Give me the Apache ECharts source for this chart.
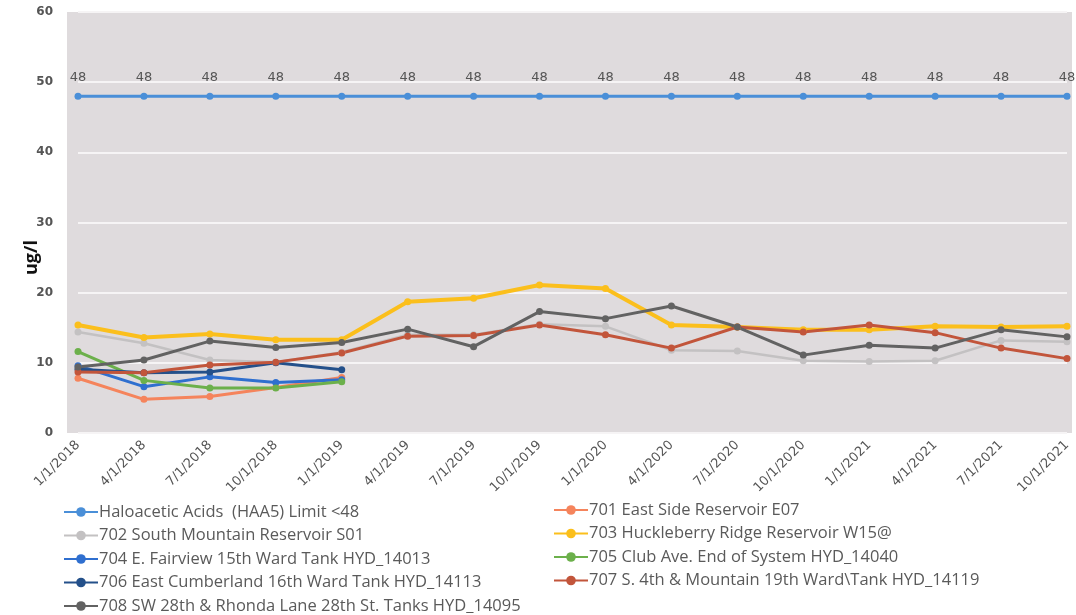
<!DOCTYPE html>
<html>
<head>
<meta charset="utf-8">
<script src="https://cdn.jsdelivr.net/npm/echarts@6/dist/echarts.min.js"></script>
<style>
  html, body { margin: 0; padding: 0; background: #fff; }
  #chart { width: 1076px; height: 615px; }
</style>
</head>
<body>
<div id="chart"></div>
<script>
const dates = ["1/1/2018", "4/1/2018", "7/1/2018", "10/1/2018", "1/1/2019", "4/1/2019", "7/1/2019", "10/1/2019",
  "1/1/2020", "4/1/2020", "7/1/2020", "10/1/2020", "1/1/2021", "4/1/2021", "7/1/2021", "10/1/2021"]

const haa5Limit = [48, 48, 48, 48, 48, 48, 48, 48, 48, 48, 48, 48, 48, 48, 48, 48]
const eastSide701 = [7.8, 4.8, 5.2, 6.5, 7.9, null, null, null, null, null, null, null, null, null, null, null]
const southMountain702 = [14.4, 12.8, 10.4, 10.1, 11.5, 14.0, 14.0, 15.5, 15.2, 11.8, 11.7, 10.3, 10.2, 10.3, 13.2, 13.0]
const huckleberry703 = [15.4, 13.6, 14.1, 13.3, 13.3, 18.7, 19.2, 21.1, 20.6, 15.4, 15.1, 14.7, 14.7, 15.2, 15.1, 15.2]
const fairview704 = [9.6, 6.6, 8.0, 7.2, 7.6, null, null, null, null, null, null, null, null, null, null, null]
const clubAve705 = [11.6, 7.5, 6.4, 6.4, 7.3, null, null, null, null, null, null, null, null, null, null, null]
const cumberland706 = [9.1, 8.6, 8.7, 10.0, 9.0, null, null, null, null, null, null, null, null, null, null, null]
const fourthMountain707 = [8.7, 8.6, 9.7, 10.1, 11.4, 13.8, 13.9, 15.4, 14.0, 12.1, 15.1, 14.4, 15.4, 14.3, 12.1, 10.6]
const rhonda708 = [9.4, 10.4, 13.1, 12.2, 12.9, 14.8, 12.3, 17.3, 16.3, 18.1, 15.1, 11.1, 12.5, 12.1, 14.7, 13.7]

const yTicks = [0, 10, 20, 30, 40, 50, 60]

const chart = echarts.init(document.getElementById("chart"))

function line(name, data, color, width, extra) {
  return Object.assign({
    name: name,
    type: "line",
    data: data,
    symbol: "circle",
    symbolSize: 7,
    connectNulls: false,
    lineStyle: { color: color, width: width },
    itemStyle: { color: color },
    emphasis: { disabled: true },
  }, extra || {})
}

const legendText = { color: "#5a5a5a", fontSize: 16.5, lineHeight: 18, fontFamily: "Open Sans", padding: [0, 0, 0, -4] }

const legendBase = {
  orient: "vertical",
  padding: 0,
  height: 130,
  itemGap: 5.5,
  itemWidth: 34,
  itemHeight: 12,
  textStyle: legendText,
}

const option = {
  backgroundColor: "#ffffff",
  animation: false,
  graphic: [
    {
      type: "rect",
      z: -10,
      silent: true,
      shape: { x: 67, y: 12, width: 1005, height: 421 },
      style: { fill: "#dfdbdd" },
    },
  ],
  grid: { left: 78, right: 9, top: 12, bottom: 182 },
  legend: [
    Object.assign({}, legendBase, {
      left: 63,
      top: 503,
      data: ["Haloacetic Acids  (HAA5) Limit <48", "702 South Mountain Reservoir S01",
        "704 E. Fairview 15th Ward Tank HYD_14013", "706 East Cumberland 16th Ward Tank HYD_14113",
        "708 SW 28th & Rhonda Lane 28th St. Tanks HYD_14095"],
    }),
    Object.assign({}, legendBase, {
      left: 553,
      top: 501,
      data: ["701 East Side Reservoir E07", "703 Huckleberry Ridge Reservoir W15@",
        "705 Club Ave. End of System HYD_14040", "707 S. 4th & Mountain 19th Ward\\Tank HYD_14119"],
    }),
  ],
  xAxis: {
    type: "category",
    data: dates,
    boundaryGap: false,
    axisLine: { show: false },
    axisTick: { show: false },
    axisLabel: {
      rotate: 45,
      color: "#555",
      fontSize: 13,
      fontFamily: "DejaVu Sans",
      margin: 10,
      interval: 0,
    },
  },
  yAxis: {
    type: "value",
    min: yTicks[0],
    max: yTicks[yTicks.length - 1],
    interval: 10,
    name: "ug/l",
    nameLocation: "middle",
    nameGap: 37,
    nameMoveOverlap: false,
    nameRotate: 90,
    nameTextStyle: {
      color: "#111",
      fontSize: 18,
      fontWeight: "bold",
      fontFamily: "Open Sans",
      padding: [0, 70, 0, 0],
    },
    axisLine: { show: false },
    axisTick: { show: false },
    axisLabel: { color: "#555", fontSize: 12, fontWeight: "bold", fontFamily: "DejaVu Sans", margin: 25 },
    splitLine: { lineStyle: { color: "#f6f4f5", width: 2 } },
  },
  series: [
    line("Haloacetic Acids  (HAA5) Limit <48", haa5Limit, "#4a8fd8", 3, {
      label: {
        show: true,
        position: "top",
        distance: 9,
        color: "#555",
        fontSize: 13,
        fontFamily: "DejaVu Sans",
      },
    }),
    line("701 East Side Reservoir E07", eastSide701, "#f5845c", 3),
    line("702 South Mountain Reservoir S01", southMountain702, "#c3c1c2", 2.5),
    line("703 Huckleberry Ridge Reservoir W15@", huckleberry703, "#fbbf1c", 4),
    line("704 E. Fairview 15th Ward Tank HYD_14013", fairview704, "#2f6fcf", 3),
    line("705 Club Ave. End of System HYD_14040", clubAve705, "#6cb04b", 3),
    line("706 East Cumberland 16th Ward Tank HYD_14113", cumberland706, "#24508a", 3),
    line("707 S. 4th & Mountain 19th Ward\\Tank HYD_14119", fourthMountain707, "#c2553b", 3),
    line("708 SW 28th & Rhonda Lane 28th St. Tanks HYD_14095", rhonda708, "#626262", 3),
  ],
}

chart.setOption(option)
</script>
</body>
</html>
